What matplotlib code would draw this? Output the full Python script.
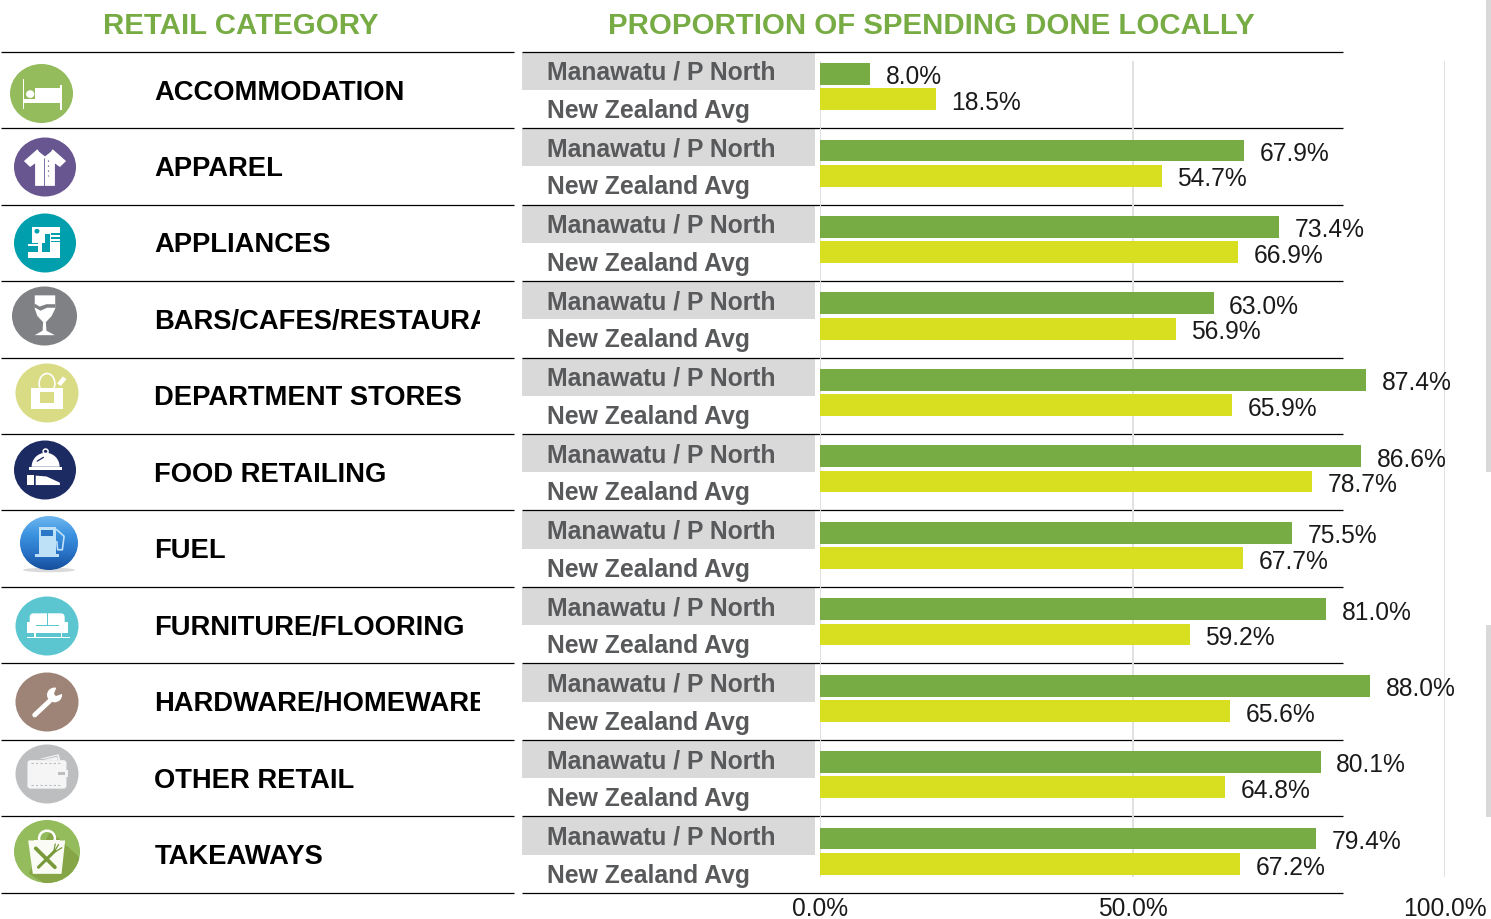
import matplotlib
matplotlib.use("Agg")
import numpy as np
import matplotlib.pyplot as plt
from matplotlib.colors import LinearSegmentedColormap
from matplotlib.patches import Ellipse, Rectangle, Polygon, FancyBboxPatch, Wedge

plt.rcParams['font.family'] = ['Liberation Sans', 'DejaVu Sans']

categories = ["ACCOMMODATION", "APPAREL", "APPLIANCES", "BARS/CAFES/RESTAURANTS",
              "DEPARTMENT STORES", "FOOD RETAILING", "FUEL", "FURNITURE/FLOORING",
              "HARDWARE/HOMEWARES", "OTHER RETAIL", "TAKEAWAYS"]
series_names = ["Manawatu / P North", "New Zealand Avg"]
manawatu = [8.0, 67.9, 73.4, 63.0, 87.4, 86.6, 75.5, 81.0, 88.0, 80.1, 79.4]
nz_avg = [18.5, 54.7, 66.9, 56.9, 65.9, 78.7, 67.7, 59.2, 65.6, 64.8, 67.2]
x_ticks = [0, 50, 100]
x_tick_labels = ["0.0%", "50.0%", "100.0%"]
header_left = "RETAIL CATEGORY"
header_right = "PROPORTION OF SPENDING DONE LOCALLY"

W, H = 1491, 919
GREEN = "#77AB43"
LIME = "#D8DF21"
GREY_TXT = "#58595B"
VAL_TXT = "#1a1a1a"

fig = plt.figure(figsize=(W / 100, H / 100), dpi=100, facecolor="white")

# overlay in pixel coordinates for table furniture
pad = fig.add_axes([0, 0, 1, 1], zorder=1)
pad.set_xlim(0, W); pad.set_ylim(H, 0); pad.axis("off")
pad.set_autoscale_on(False)

TOP, BOT = 52.5, 893.5
ROW = (BOT - TOP) / len(categories)

# chart axes: x 0..100, one y unit per category row
ax = fig.add_axes([820 / W, 1 - BOT / H, (1445 - 820) / W, (BOT - TOP) / H], zorder=3)
ax.patch.set_alpha(0)
ax.set_xlim(0, 100)
ax.set_ylim(len(categories), 0)
ax.set_yticks([])
ax.set_xticks(x_ticks)
ax.set_xticklabels(x_tick_labels, fontsize=17.7, color=VAL_TXT)
ax.tick_params(axis="x", length=0, pad=2.2)
for s in ax.spines.values():
    s.set_visible(False)

gtop = (61 - TOP) / ROW
gbot = (877 - TOP) / ROW
ax.vlines(x_ticks, gtop, gbot, color="#E1E1E1", lw=1.4, zorder=0)

for i, (a, b) in enumerate(zip(manawatu, nz_avg)):
    ax.barh(i + 0.281, a, height=0.285, color=GREEN, zorder=2)
    ax.barh(i + 0.612, b, height=0.285, color=LIME, zorder=2)
    ax.annotate(f"{a:.1f}%", (a, i + 0.325), xytext=(15.5, 0), textcoords="offset pixels",
                va="center", fontsize=17.7, color=VAL_TXT, zorder=5)
    ax.annotate(f"{b:.1f}%", (b, i + 0.66), xytext=(15.5, 0), textcoords="offset pixels",
                va="center", fontsize=17.7, color=VAL_TXT, zorder=5)

# headers
pad.text(240.5, 26.5, header_left, ha="center", va="center", fontsize=21.2, fontweight="bold", color=GREEN)
pad.text(931.5, 26.5, header_right, ha="center", va="center", fontsize=21.2, fontweight="bold", color=GREEN)

# right-edge grey bands
pad.add_patch(Rectangle((1486, 0), 5, 472, fc="#D9D9D9", ec="none"))
pad.add_patch(Rectangle((1486, 625), 5, 192, fc="#D9D9D9", ec="none"))

# row rules
for i in range(len(categories) + 1):
    y = TOP + i * ROW - 0.8
    pad.plot([0.5, 513.5], [y, y], color="black", lw=0.9, zorder=4, solid_capstyle="butt")
    pad.plot([521.5, 1342.5], [y, y], color="black", lw=0.9, zorder=4, solid_capstyle="butt")

clip = Rectangle((0, 0), 479.5, H, transform=pad.transData)
for i, c in enumerate(categories):
    y = TOP + i * ROW
    t = pad.text(154.5, y + 40, c, va="center", ha="left", fontsize=19.7, fontweight="bold", color="black")
    t.set_clip_path(clip)
    t.set_clip_on(True)
    pad.add_patch(Rectangle((522, y), 293, 37.5, fc="#D9D9D9", ec="none", zorder=1))
    pad.text(547, y + 20.5, series_names[0], va="center", fontsize=17.85, fontweight="bold", color=GREY_TXT, zorder=3)
    pad.text(547, y + 58.5, series_names[1], va="center", fontsize=17.85, fontweight="bold", color=GREY_TXT, zorder=3)


# ---- icons, drawn in a local unit box (-1..1) around a centre ----
def icon(cx, cy, rx, ry, fc):
    pad.add_patch(Ellipse((cx, cy), 2 * rx, 2 * ry, fc=fc, ec="none", zorder=2))
    return lambda u, v: (cx + u * rx, cy + v * ry)


def poly(m, pts, fc="white", z=3):
    p = Polygon([m(*q) for q in pts], closed=True, fc=fc, ec="none", zorder=z)
    pad.add_patch(p)
    return p


def rect(m, u0, v0, u1, v1, fc="white", z=3):
    return poly(m, [(u0, v0), (u1, v0), (u1, v1), (u0, v1)], fc, z)


def oval(m, u, v, ru, rv, fc="white", ec="none", lw=0, z=3):
    x0, y0 = m(u, v)
    x1, y1 = m(u + ru, v + rv)
    pad.add_patch(Ellipse((x0, y0), 2 * (x1 - x0), 2 * (y1 - y0), fc=fc, ec=ec, lw=lw, zorder=z))


def stroke(m, pts, color="white", lw=1.0, z=3, cap="round", **kw):
    xy = [m(*q) for q in pts]
    pad.plot([q[0] for q in xy], [q[1] for q in xy], color=color, lw=lw, zorder=z,
             solid_capstyle=cap, **kw)


# accommodation: bed
m = icon(41.5, 93.5, 31.5, 29.5, "#94BB5C")
rect(m, -.6, -.48, -.54, .52); rect(m, .58, -.28, .64, .57)
rect(m, -.55, .17, .6, .33); rect(m, -.2, -.17, .6, .2)
oval(m, -.36, .02, .13, .13)

# apparel: shirt
C = "#67568F"
m = icon(45, 167, 31, 29.5, C)
poly(m, [(-.25, -.6), (-.68, -.2), (-.48, .0), (-.32, -.12), (-.32, .64), (.32, .64), (.32, -.12), (.48, .0), (.68, -.2), (.25, -.6), (.12, -.47), (0, -.38), (-.12, -.47)])
stroke(m, [(-.2, -.55), (0, -.38), (.2, -.55)], C, 0.7, 4)
stroke(m, [(-.03, -.3), (-.03, .64)], C, 0.6, 4, cap="butt")
stroke(m, [(.1, -.25), (.1, .3)], C, 0.9, 4, cap="butt", linestyle=(0, (1, 3)))

# appliances
C = "#009FAD"
m = icon(45, 243, 31, 29.5, C)
rect(m, -.43, -.53, .48, -.3); rect(m, -.43, -.53, 0, 0); rect(m, .16, -.3, .48, .51)
rect(m, -.54, .32, .48, .51); rect(m, -.22, 0, -.1, .32)
rect(m, -.54, .02, -.1, .1); oval(m, -.26, -.4, .08, .08, C, z=4)
rect(m, .18, -.33, .48, -.28, C, 4); rect(m, .18, -.2, .48, -.15, C, 4); rect(m, .18, -.08, .48, -.03, C, 4)

# bars: wine glass
C = "#808184"
m = icon(44.5, 316, 32.5, 29.5, C)
poly(m, [(-.3, -.7), (.33, -.7), (.33, -.25), (.22, .0), (.05, .2), (-.05, .2), (-.22, .0), (-.3, -.25)])
poly(m, [(-.3, -.42), (-.15, -.32), (.06, -.4), (.33, -.4), (.33, -.28), (.08, -.28), (-.12, -.18), (-.32, -.3)], C, 4)
poly(m, [(-.04, .18), (.04, .18), (.06, .5), (.32, .65), (-.3, .65), (-.06, .5)])

# department stores: bag
C = "#D9DB85"
m = icon(47, 393, 31.5, 29.5, C)
oval(m, 0, -.32, .25, .34, "none", "white", 1.2, 3)
rect(m, -.5, -.17, .5, .55, z=4)
rect(m, -.23, -.02, .23, .34, C, 5)
poly(m, [(.32, -.32), (.5, -.56), (.62, -.47), (.44, -.24)])

# food: cloche and hand
C = "#1D2B63"
m = icon(45, 470, 31, 29.5, C)
pad.add_patch(Wedge(m(.02, -.11), 14, 180, 360, fc="white", ec="none", zorder=3))
stroke(m, [(-.25, -.3), (-.05, -.43)], C, 0.9, 4)
rect(m, -.52, -.09, .56, .0)
oval(m, .02, -.63, .08, .08, "none", "white", 1.1)
rect(m, -.59, .17, -.34, .51)
poly(m, [(-.3, .19), (.05, .22), (.48, .43), (.48, .51), (-.3, .51)])

# fuel: glossy pump with vertical gradient
pad.add_patch(Ellipse((49, 570), 52, 4.5, fc="#DADADA", ec="none", zorder=1))
body = Ellipse((49, 543), 58, 54, fc="none", ec="none", zorder=2, transform=pad.transData)
pad.add_patch(body)
blue = LinearSegmentedColormap.from_list("blue", ["#6DB6EE", "#3C93E0", "#2A75C8", "#164F9E"])
grad = pad.imshow(np.linspace(0, 1, 64)[:, None], extent=(20, 78, 570, 516), origin="upper",
                  cmap=blue, aspect="auto", zorder=2)
grad.set_clip_path(body)
pad.set_xlim(0, W); pad.set_ylim(H, 0)
m = lambda u, v: (49 + u * 29, 543 + v * 27)
C = "#BFE1F7"
rect(m, -.36, -.61, .24, .4, C); rect(m, -.48, .4, .36, .53, C)
rect(m, -.26, -.5, .14, -.27, "#2B78C8", 4)
stroke(m, [(.26, -.5), (.52, -.25), (.46, .25), (.3, .25), (.27, -.05)], C, 1.2, 3)

# furniture: sofa
C = "#5BC6D0"
m = icon(47, 626, 31.5, 29.5, C)
pad.add_patch(FancyBboxPatch(m(-.55, -.43), 35, 17, boxstyle="round,pad=0,rounding_size=4", fc="white", ec="none", zorder=3))
rect(m, -.63, -.15, -.39, .25); rect(m, .42, -.15, .66, .25)
rect(m, -.63, .0, .66, .25)
rect(m, -.63, .36, .74, .4)
rect(m, -.4, .25, -.36, .36); rect(m, .44, .25, .48, .36)
rect(m, -.01, -.43, .02, -.04, C, 4)
rect(m, -.36, -.04, .39, -.01, C, 4)

# hardware: wrench
C = "#9E8477"
m = icon(47, 702, 31.5, 29.5, C)
stroke(m, [(-.39, .44), (.08, -.03)], "white", 3.5, 3)
oval(m, .24, -.24, .24, .25)
poly(m, [(.22, -.28), (.32, -.55), (.7, -.7), (.55, -.3), (.28, -.2)], C, 4)

# other retail: wallet
C = "#BDBEC0"
W_FILL = "#F5F5F5"
m = icon(47, 774, 31.5, 29.5, C)
poly(m, [(-.23, -.52), (.37, -.67), (.42, -.47)], W_FILL)
poly(m, [(-.17, -.5), (.33, -.62), (.36, -.47)], C, 3.1)
poly(m, [(-.12, -.49), (.32, -.58), (.34, -.47)], W_FILL, 3.2)
pad.add_patch(FancyBboxPatch(m(-.62, -.47), 39, 28.5, boxstyle="round,pad=0,rounding_size=3", fc=W_FILL, ec="none", zorder=3))
rect(m, .31, -.12, .67, .1, W_FILL, 4)
rect(m, .36, -.06, .56, .05, C, 5)
for vv in (-.36, .36):
    stroke(m, [(-.5, vv), (.42, vv)], C, 0.8, 5, cap="butt", linestyle=(0, (2, 2)))

# takeaways: bag with cutlery
C = "#94BB5C"
m = icon(47, 851.5, 33, 31.5, C)
disc = Ellipse((47, 851.5), 66, 63, transform=pad.transData, fc="none", ec="none")
pad.add_patch(disc)
shade = poly(m, [(.1, -.65), (1, .2), (1, 1), (-.1, 1), (-.55, .7)], "#85A546", 2.5)
shade.set_clip_path(disc)
poly(m, [(-.57, -.35), (.55, -.35), (.44, .71), (-.43, .71)], "#FAFBF4")
oval(m, 0, -.42, .24, .24, "none", "white", 1.8)
rect(m, -.4, -.35, .4, -.1, "#FAFBF4", 3.2)
G = "#77993A"
stroke(m, [(-.34, -.1), (.24, .5)], G, 2.7, 4)
stroke(m, [(-.26, .5), (.24, -.02)], G, 2.2, 4)
for a_, b_ in ((.15, -.16), (.25, -.14), (.35, -.04)):
    stroke(m, [(.2, .04), (a_ + .1, b_ - .08)], G, 0.9, 4)

fig.savefig("out.png", dpi=100, facecolor="white")
